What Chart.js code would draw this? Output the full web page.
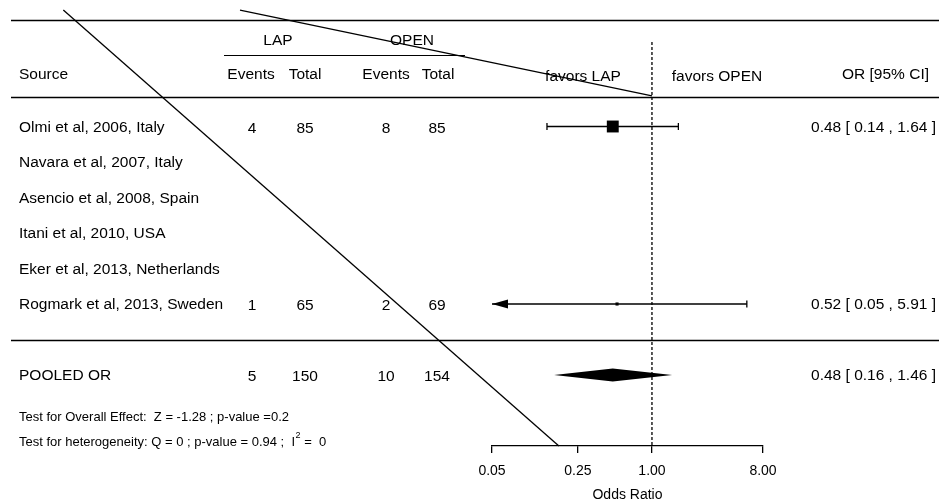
<!DOCTYPE html>
<html>
<head>
<meta charset="utf-8">
<script src="https://cdn.jsdelivr.net/npm/chart.js@4.4.1/dist/chart.umd.min.js"></script>
<style>
  html, body { margin: 0; padding: 0; background: #fff; }
</style>
</head>
<body>
<canvas id="forest" width="939" height="502"></canvas>
<script>
// --- data ---
const studies = ['Olmi et al, 2006, Italy', 'Navara et al, 2007, Italy', 'Asencio et al, 2008, Spain',
  'Itani et al, 2010, USA', 'Eker et al, 2013, Netherlands', 'Rogmark et al, 2013, Sweden'];
const lapEvents = [4, null, null, null, null, 1];
const lapTotal = [85, null, null, null, null, 65];
const openEvents = [8, null, null, null, null, 2];
const openTotal = [85, null, null, null, null, 69];
const oddsRatio = [0.48, null, null, null, null, 0.52];
const ciLow = [0.14, null, null, null, null, 0.05];
const ciHigh = [1.64, null, null, null, null, 5.91];
const weights = [79.3, null, null, null, null, 20.7];

const pooledLabel = 'POOLED OR';
const pooledCounts = [5, 150, 10, 154];
const pooledOR = [0.48, 0.16, 1.46]; // estimate, low, high

const xTicks = [0.05, 0.25, 1, 8];
const testOverall = 'Test for Overall Effect:  Z = -1.28 ; p-value =0.2';
const testHet = ['Test for heterogeneity: Q = 0 ; p-value = 0.94 ;  I', '2', ' =  0'];

// the two stray diagonal strokes in the picture (x = odds ratio, y = row)
const strayLineA = [{ x: 1.63e-5, y: -2.28 }, { x: 0.175, y: 10 }];
const strayLineB = [{ x: 4.46e-4, y: -2.28 }, { x: 1, y: 0.14 }];

const FONT = '"Liberation Sans", Arial, Helvetica, sans-serif';
const INK = '#000';

function fmt(v) { return v.toFixed(2); }

const datasets = [];

// null line
datasets.push({
  data: [{ x: 1, y: -1.38 }, { x: 1, y: 10 }],
  showLine: true, borderColor: INK, borderWidth: 1.3, borderDash: [3, 2],
  pointRadius: 0, clip: false
});

// confidence intervals, caps and squares
const caps = [];
const squares = [];
const squareSizes = [];
studies.forEach((s, i) => {
  if (oddsRatio[i] == null) return;
  const row = i + 1;
  datasets.push({
    data: [{ x: ciLow[i], y: row }, { x: ciHigh[i], y: row }],
    showLine: true, borderColor: INK, borderWidth: 1.3, pointRadius: 0, clip: false
  });
  if (ciLow[i] > xTicks[0]) caps.push({ x: ciLow[i], y: row });
  caps.push({ x: ciHigh[i], y: row });
  squares.push({ x: oddsRatio[i], y: row });
  squareSizes.push(weights[i] * 0.15 / Math.SQRT2);
});
datasets.push({
  data: caps, pointStyle: 'line', rotation: 90, pointRadius: 3.5,
  borderColor: INK, borderWidth: 1.3, clip: false
});
datasets.push({
  data: squares, pointStyle: 'rect', pointRadius: squareSizes,
  backgroundColor: INK, borderWidth: 0, clip: false
});

// stray strokes
[strayLineA, strayLineB].forEach(line => {
  datasets.push({
    data: line, showLine: true, borderColor: INK, borderWidth: 1.3, pointRadius: 0, clip: false
  });
});

const tablePlugin = {
  id: 'forestTable',
  afterDatasetsDraw(chart) {
    const { ctx, scales: { x, y } } = chart;
    ctx.save();
    ctx.fillStyle = INK;
    ctx.strokeStyle = INK;

    // horizontal rules
    ctx.lineWidth = 1.5;
    [-2, 0.17, 7].forEach(r => {
      const py = Math.round(y.getPixelForValue(r)) + 0.5;
      ctx.beginPath(); ctx.moveTo(11, py); ctx.lineTo(939, py); ctx.stroke();
    });
    ctx.lineWidth = 1.2;
    ctx.beginPath(); ctx.moveTo(224, 55.5); ctx.lineTo(465, 55.5); ctx.stroke();

    // header
    ctx.font = '15.5px ' + FONT;
    ctx.textBaseline = 'middle';
    ctx.textAlign = 'center';
    ctx.fillText('LAP', 278, 41);
    ctx.fillText('OPEN', 412, 41);
    ctx.textAlign = 'left';
    ctx.fillText('Source', 19, 75);
    ctx.textAlign = 'center';
    ctx.fillText('Events', 251, 75);
    ctx.fillText('Total', 305, 75);
    ctx.fillText('Events', 386, 75);
    ctx.fillText('Total', 438, 75);
    ctx.fillText('favors LAP', 583, 77);
    ctx.fillText('favors OPEN', 717, 77);
    ctx.textAlign = 'right';
    ctx.fillText('OR [95% CI]', 929, 75);

    const colX = [252, 305, 386, 437];
    studies.forEach((s, i) => {
      const py = y.getPixelForValue(i + 1) + 1;
      ctx.textAlign = 'left';
      ctx.fillText(s, 19, py);
      if (oddsRatio[i] == null) return;
      ctx.textAlign = 'center';
      [lapEvents[i], lapTotal[i], openEvents[i], openTotal[i]].forEach((v, k) => {
        ctx.fillText(String(v), colX[k], py + 1);
      });
      ctx.textAlign = 'right';
      ctx.fillText(fmt(oddsRatio[i]) + ' [ ' + fmt(ciLow[i]) + ' , ' + fmt(ciHigh[i]) + ' ]', 936, py);
      // arrow when the interval runs off the axis
      if (ciLow[i] <= xTicks[0]) {
        const tip = x.getPixelForValue(xTicks[0]);
        const cy = y.getPixelForValue(i + 1);
        ctx.beginPath();
        ctx.moveTo(tip, cy);
        ctx.lineTo(tip + 16, cy - 4.5);
        ctx.lineTo(tip + 16, cy + 4.5);
        ctx.closePath(); ctx.fill();
      }
    });

    // pooled row
    const pr = y.getPixelForValue(8) + 1;
    ctx.textAlign = 'left';
    ctx.fillText(pooledLabel, 19, pr);
    ctx.textAlign = 'center';
    pooledCounts.forEach((v, k) => ctx.fillText(String(v), colX[k], pr + 1));
    ctx.textAlign = 'right';
    ctx.fillText(fmt(pooledOR[0]) + ' [ ' + fmt(pooledOR[1]) + ' , ' + fmt(pooledOR[2]) + ' ]', 936, pr);

    // pooled diamond
    const dy = y.getPixelForValue(8);
    ctx.beginPath();
    ctx.moveTo(x.getPixelForValue(pooledOR[1]), dy);
    ctx.lineTo(x.getPixelForValue(pooledOR[0]), dy - 6.5);
    ctx.lineTo(x.getPixelForValue(pooledOR[2]), dy);
    ctx.lineTo(x.getPixelForValue(pooledOR[0]), dy + 6.5);
    ctx.closePath(); ctx.fill();

    // test statistics
    ctx.font = '13px ' + FONT;
    ctx.textAlign = 'left';
    ctx.fillText(testOverall, 19, 417);
    let tx = 19;
    ctx.fillText(testHet[0], tx, 442);
    tx += ctx.measureText(testHet[0]).width;
    ctx.font = '9px ' + FONT;
    ctx.fillText(testHet[1], tx + 0.5, 436);
    tx += ctx.measureText(testHet[1]).width + 0.5;
    ctx.font = '13px ' + FONT;
    ctx.fillText(testHet[2], tx, 442);

    ctx.restore();
  }
};

new Chart(document.getElementById('forest'), {
  type: 'scatter',
  data: { datasets },
  options: {
    responsive: false,
    animation: false,
    events: [],
    layout: { padding: { left: 492, right: 176, top: 20, bottom: 0 } },
    plugins: { legend: { display: false }, tooltip: { enabled: false } },
    scales: {
      x: {
        type: 'logarithmic',
        min: 0.05,
        max: 8,
        afterBuildTicks: s => { s.ticks = xTicks.map(v => ({ value: v })); },
        afterFit: s => { s.height = 56; },
        ticks: {
          callback: v => Number(v).toFixed(2),
          font: { family: FONT, size: 14 }, color: INK, padding: 10,
          maxRotation: 0, autoSkip: false
        },
        grid: { drawOnChartArea: false, drawTicks: true, tickLength: 7, color: INK, lineWidth: 1.3 },
        border: { display: true, color: INK, width: 1.3 },
        title: { display: true, text: 'Odds Ratio', font: { family: FONT, size: 14 }, color: INK,
          padding: { top: 0, bottom: -2 } }
      },
      y: { type: 'linear', reverse: true, min: -2, max: 10, display: false }
    }
  },
  plugins: [tablePlugin]
});
</script>
</body>
</html>
